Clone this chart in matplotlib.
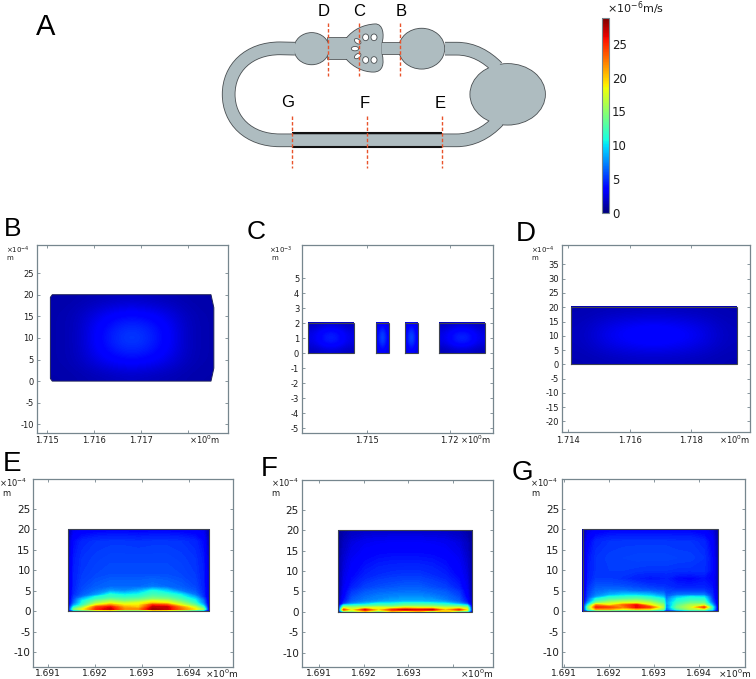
#!/usr/bin/env python3
import numpy as np
import matplotlib
matplotlib.use("Agg")
import matplotlib.pyplot as plt
from matplotlib.cm import ScalarMappable
from matplotlib.colors import Normalize
from matplotlib.patches import Ellipse, PathPatch, Polygon, Rectangle
from matplotlib.path import Path

plt.rcParams["axes.unicode_minus"] = False

W, H = 756, 679
VMAX = 28.8
GREY = "#76868e"
CHIP = "#aebcc0"
EDGE = "#4a4f52"
RED = "#e9532b"
INK = "#1c1c1c"

# --- velocity fields, values in 1e-6 m/s ---
# rows run bottom to top (y in 1e-4 m)
b_extent = [1.71508, 1.71854, 0, 20]
b_v = [
    [1.1, 1.2, 1.4, 1.6, 1.8, 1.6, 1.4, 1.2, 1.1],
    [1.2, 1.5, 2.4, 3.2, 3.5, 3.2, 2.5, 1.5, 1.2],
    [1.2, 1.6, 3.1, 4.3, 4.8, 4.3, 3.2, 1.7, 1.2],
    [1.2, 1.6, 3.3, 4.7, 5.6, 4.7, 3.4, 1.7, 1.2],
    [1.2, 1.6, 3.1, 4.3, 4.8, 4.3, 3.2, 1.7, 1.2],
    [1.2, 1.5, 2.4, 3.2, 3.5, 3.2, 2.5, 1.5, 1.2],
    [1.1, 1.2, 1.4, 1.6, 1.8, 1.6, 1.4, 1.2, 1.1],
]
b_outline = [(1.71508, 0.6), (1.71512, 0), (1.71848, 0), (1.71854, 3), (1.71854, 17),
             (1.71848, 20), (1.71512, 20), (1.71508, 19.4)]

c_rects = [(1.71142, 1.71421), (1.71553, 1.7163), (1.71729, 1.71806), (1.71937, 1.72214)]
c_v = [
    [[1.6, 2.2, 2.2, 1.6], [2.4, 4.0, 4.0, 2.4], [2.6, 4.6, 4.6, 2.6], [2.4, 4.0, 4.0, 2.4], [1.6, 2.2, 2.2, 1.6]],
    [[2.4, 3.4, 3.4, 2.4], [3.2, 5.0, 5.0, 3.2], [3.6, 5.6, 5.6, 3.6], [3.2, 5.0, 5.0, 3.2], [2.4, 3.4, 3.4, 2.4]],
    [[2.4, 3.4, 3.4, 2.4], [3.2, 5.0, 5.0, 3.2], [3.6, 5.8, 5.8, 3.6], [3.2, 5.0, 5.0, 3.2], [2.4, 3.4, 3.4, 2.4]],
    [[1.4, 2.0, 2.0, 1.4], [2.4, 4.0, 4.0, 2.4], [2.6, 4.8, 4.8, 2.6], [2.4, 4.0, 4.0, 2.4], [1.6, 2.2, 2.2, 1.6]],
]

d_extent = [1.71409, 1.71948, 0, 20]
d_v = [
    [1.3, 1.5, 1.7, 1.8, 1.7, 1.5, 1.3],
    [1.5, 2.4, 2.9, 3.1, 2.9, 2.4, 1.5],
    [1.6, 2.9, 3.6, 4.2, 3.6, 2.9, 1.6],
    [1.5, 2.4, 2.9, 3.1, 2.9, 2.4, 1.5],
    [1.3, 1.5, 1.6, 1.7, 1.6, 1.5, 1.3],
]

# E and F share columns and rows
ef_x = [1.69143, 1.69155, 1.69173, 1.69203, 1.69233, 1.69263, 1.69293,
        1.69323, 1.69353, 1.69383, 1.69413, 1.69431, 1.69443]
ef_y = [0, 0.15, 0.5, 1, 1.5, 2, 2.5, 3, 3.5, 4, 5, 6, 9, 13, 17, 20]
e_v = [
    [0.8, 3, 3, 4, 4, 3, 3, 4, 4, 3, 3, 3, 0.8],
    [1.5, 8, 11, 13, 13, 11, 11, 13, 13, 12, 9, 8, 1.5],
    [2, 14, 18, 25, 27, 22, 22, 28, 27, 23, 19, 15, 2],
    [2, 11, 15, 24, 26, 21, 20, 27, 27, 22, 17, 12, 2],
    [2, 8, 12, 19, 22, 19, 19, 25, 24, 18, 14, 9, 2],
    [2, 6.5, 11, 16, 18, 17, 18, 20, 19, 16, 12, 7.5, 2],
    [2, 6, 10.5, 14, 16, 14.5, 15.5, 18, 17, 14, 11, 7, 2],
    [2, 5.5, 9, 12, 13.5, 13, 13.5, 15, 14.5, 12.5, 10, 6, 2],
    [2, 5.2, 7, 11, 12, 11.5, 12, 13.5, 13, 11.5, 8.5, 5, 2],
    [2, 4.8, 6.2, 8, 11.5, 10.5, 11, 12.5, 12, 10.5, 7, 4.8, 2],
    [2, 4.6, 5.8, 6.8, 8, 7.5, 8.5, 11, 9.5, 7, 6, 4.6, 2],
    [2, 4.5, 5.6, 6.2, 6.6, 6.6, 6.6, 7, 6.6, 6.2, 5.6, 4.5, 2],
    [2, 4.4, 5.2, 5.6, 5.8, 5.8, 5.8, 5.8, 5.8, 5.6, 5.2, 4.4, 2],
    [1.8, 4.2, 5, 5.3, 5.5, 5.5, 5.5, 5.5, 5.5, 5.3, 5, 4.2, 1.8],
    [1.5, 3.8, 4.6, 5, 5.1, 5.1, 5, 5.1, 5.1, 5, 4.6, 3.8, 1.5],
    [1, 2.8, 3.2, 3.4, 3.5, 3.5, 3.4, 3.5, 3.5, 3.4, 3.2, 2.8, 1],
]
f_v = [
    [0.8, 3, 4, 4, 4, 4, 4, 4, 4, 4, 4, 3, 0.8],
    [1.5, 14, 15, 20, 14, 20, 17, 20, 15, 20, 14, 13, 1.5],
    [2, 24, 18, 26, 19, 25, 27, 26, 27, 20, 25, 19, 2],
    [2, 17, 16, 17, 18, 17, 19, 18, 18, 17, 17, 16, 2],
    [1.5, 11.5, 12, 12.5, 13, 13, 14, 14, 14, 13, 12.5, 11, 1.5],
    [1.2, 5, 7.5, 9, 11, 11, 12, 12, 11.5, 10.5, 8, 5.5, 1.2],
    [1.2, 4.2, 6.5, 7.5, 8, 8.5, 9, 9, 8.5, 8, 6.5, 4.2, 1.2],
    [1, 3.8, 6, 7, 7.5, 8, 8.2, 8.2, 8, 7, 6, 4, 1],
    [1, 3.6, 5.8, 6.8, 7.2, 7.6, 7.8, 7.8, 7.5, 6.8, 5.8, 3.6, 1],
    [0.9, 3.4, 5.5, 6.5, 7, 7.2, 7.4, 7.4, 7, 6.5, 5.5, 3.4, 0.9],
    [0.8, 3.2, 5, 6, 6.4, 6.6, 6.7, 6.7, 6.4, 6, 5, 3.2, 0.8],
    [0.8, 2.9, 4.4, 5.4, 5.8, 6, 6.2, 6.2, 5.8, 5.4, 4.4, 2.9, 0.8],
    [0.8, 2.5, 3.6, 4.4, 4.8, 5, 5.1, 5.1, 4.8, 4.4, 3.6, 2.5, 0.8],
    [0.8, 2.1, 3, 3.7, 4, 4.1, 4.1, 4.1, 4, 3.7, 3, 2.1, 0.8],
    [0.6, 1.6, 2.4, 2.9, 3.1, 3.2, 3.2, 3.2, 3.1, 2.9, 2.4, 1.6, 0.6],
    [0.5, 1, 1.5, 1.8, 1.9, 1.9, 1.9, 1.9, 1.9, 1.8, 1.5, 1, 0.5],
]

g_x = [1.69142, 1.69154, 1.69172, 1.69202, 1.69232, 1.69262, 1.69292, 1.69322,
       1.69328, 1.69352, 1.69382, 1.69412, 1.6943, 1.69443]
g_y = [0, 0.15, 0.5, 1, 1.5, 2, 2.5, 3, 3.5, 4, 5, 6, 8, 10, 13, 17, 20]
g_v = [
    [0.8, 3, 4, 4, 4, 4, 4, 3, 2, 3, 4, 4, 3, 0.8],
    [1.5, 8, 10, 10, 10, 10, 10, 8, 4.5, 7, 9, 9, 7, 1.5],
    [2, 13, 21, 21, 18, 20, 19, 14, 6, 12, 16, 17, 11, 2],
    [2, 14, 25, 24, 22, 26, 24, 16, 7, 14, 17, 24, 12, 2],
    [2, 11, 22, 19, 23, 26, 19, 15, 7, 13, 16, 17, 9, 2],
    [2, 8, 15, 17, 18, 18, 17, 13, 8, 12, 14, 14, 7, 2],
    [2, 6.5, 12, 14.5, 15.5, 16, 14.5, 12, 7.5, 11, 12.5, 12.5, 6, 2],
    [2, 6, 11, 12.5, 13, 13.5, 12.5, 11, 7, 10.5, 11.5, 11.5, 5.5, 2],
    [2, 5.5, 8, 11, 11.5, 12, 11, 9, 6.5, 9, 10.5, 10, 5, 2],
    [2, 5.3, 7.2, 8.5, 9.5, 9.5, 9, 7.5, 6, 6.8, 7, 7, 4.8, 2],
    [1.8, 5, 6.5, 7, 7, 6.5, 6.2, 5.8, 5.4, 5.2, 5.2, 5.2, 4.4, 1.8],
    [1.6, 4.8, 6, 6, 5.9, 5.6, 5.2, 5, 4.9, 4.5, 4.4, 4.5, 4, 1.6],
    [1.5, 4.3, 5.2, 5.2, 4.9, 4.4, 4.1, 4.3, 4.4, 3.8, 3.6, 4, 3.6, 1.5],
    [1.5, 4.2, 5, 5.2, 5.2, 5.1, 5, 5, 5, 4.9, 4.9, 4.9, 3.8, 1.5],
    [1.4, 4, 5, 5.3, 5.4, 5.5, 5.5, 5.5, 5.5, 5.4, 5.3, 5, 3.8, 1.4],
    [1.2, 3.5, 4.6, 5, 5.1, 5.1, 5.1, 5.1, 5.1, 5, 5, 4.6, 3.4, 1.2],
    [1, 2.6, 3.2, 3.5, 3.5, 3.5, 3.5, 3.5, 3.5, 3.5, 3.5, 3.2, 2.6, 1],
]

# --- tick labels ---
b_xticks = [1.715, 1.716, 1.717, 1.718]
b_xlabels = ["1.715", "1.716", "1.717", ""]
b_yticks = [-10, -5, 0, 5, 10, 15, 20, 25]
c_xticks = [1.715, 1.72]
c_xlabels = ["1.715", "1.72"]
c_yticks = [-5, -4, -3, -2, -1, 0, 1, 2, 3, 4, 5]
d_xticks = [1.714, 1.716, 1.718]
d_xlabels = ["1.714", "1.716", "1.718"]
d_yticks = [-20, -15, -10, -5, 0, 5, 10, 15, 20, 25, 30, 35]
ef_yticks = [-10, -5, 0, 5, 10, 15, 20, 25]
e_xticks = [1.691, 1.692, 1.693, 1.694]
e_xlabels = ["1.691", "1.692", "1.693", "1.694"]
f_xlabels = ["1.691", "1.692", "1.693", ""]
cbar_ticks = [0, 5, 10, 15, 20, 25]

fig = plt.figure(figsize=(W / 100, H / 100), dpi=100)
norm = Normalize(0, VMAX)
levels = np.linspace(0, VMAX, 145)


def px_axes(left, top, right, bottom):
    return fig.add_axes([left / W, 1 - bottom / H, (right - left) / W, (bottom - top) / H])


def panel(box, xlim, ylim, xticks, xlabels, yticks, xsize, ysize, xpad):
    ax = px_axes(*box)
    ax.set_xlim(xlim)
    ax.set_ylim(ylim)
    ax.set_autoscale_on(False)
    ax.set_xticks(xticks, xlabels, fontsize=xsize)
    ax.set_yticks(yticks, [str(t) for t in yticks], fontsize=ysize)
    ax.tick_params(axis="both", direction="in", top=True, right=True, length=2,
                   width=0.6, color=GREY, labelcolor=INK, pad=2)
    ax.tick_params(axis="x", pad=xpad)
    for s in ax.spines.values():
        s.set_color(GREY)
        s.set_linewidth(0.9)
    return ax


def frame(ax, x0, x1, y0, y1):
    ax.plot([x0, x1, x1, x0, x0], [y0, y0, y1, y1, y0], color="#3f4450", lw=0.8,
            solid_joinstyle="miter")


def smooth_field(ax, extent, v):
    im = ax.imshow(v, extent=extent, origin="lower", aspect="auto", cmap="jet", norm=norm,
                   interpolation="bicubic")
    frame(ax, *extent)
    return im


def band_field(ax, x, y, v):
    ax.contourf(x, y, v, levels=levels, cmap="jet", norm=norm, antialiased=False)
    frame(ax, x[0], x[-1], y[0], y[-1])


# --- panel B ---
ax_b = panel((36.7, 245, 228, 433), (1.71479, 1.71884), (-12.0, 31.5),
             b_xticks, b_xlabels, b_yticks, 6, 6, 2.5)
im = ax_b.imshow(b_v, extent=b_extent, origin="lower", aspect="auto", cmap="jet", norm=norm,
                 interpolation="bicubic")
outline = Polygon(b_outline, closed=True, fc="none", ec="#20245a", lw=0.7, transform=ax_b.transData)
ax_b.add_patch(outline)
im.set_clip_path(outline)

# --- panel C ---
ax_c = panel((302, 245.3, 493.3, 432.7), (1.71104, 1.72265), (-5.29, 7.2),
             c_xticks, c_xlabels, c_yticks, 6, 6, 2.5)
for (x0, x1), v in zip(c_rects, c_v):
    smooth_field(ax_c, [x0, x1, 0, 2], v)

# --- panel D ---
ax_d = panel((561.7, 244.7, 750.3, 432.3), (1.71379, 1.71992), (-23.8, 41.9),
             d_xticks, d_xlabels, d_yticks, 6, 6, 2.5)
smooth_field(ax_d, d_extent, d_v)

# --- panels E, F, G ---
ax_e = panel((33.3, 479.3, 233, 667.3), (1.69069, 1.69494), (-13.7, 32.26),
             e_xticks, e_xlabels, ef_yticks, 6.5, 7.5, 1.5)
band_field(ax_e, ef_x, ef_y, e_v)
ax_f = panel((301.7, 480, 493.3, 667.3), (1.69061, 1.6949), (-13.6, 32.3),
             e_xticks, f_xlabels, ef_yticks, 6.5, 7.5, 1.5)
band_field(ax_f, ef_x, ef_y, f_v)
ax_g = panel((562, 479.3, 744.5, 667.3), (1.69096, 1.69502), (-13.7, 32.26),
             e_xticks, e_xlabels, ef_yticks, 6.5, 7.5, 1.5)
band_field(ax_g, g_x, g_y, g_v)

# --- colorbar ---
cax = px_axes(602.3, 18.3, 609.3, 212.7)
cb = fig.colorbar(ScalarMappable(norm=norm, cmap="jet"), cax=cax, ticks=cbar_ticks)
cb.ax.tick_params(length=0, labelsize=8.5, pad=2, labelcolor=INK)
cb.outline.set_edgecolor(GREY)
cb.outline.set_linewidth(0.8)

# --- overlay in pixel coordinates: schematic A and all the loose text ---
ov = fig.add_axes([0, 0, 1, 1], zorder=-1)
ov.set_xlim(0, W)
ov.set_ylim(H, 0)
ov.axis("off")
top = fig.add_axes([0, 0, 1, 1], zorder=5)
top.set_xlim(0, W)
top.set_ylim(H, 0)
top.axis("off")
top.patch.set_alpha(0)


def z(x, y):
    # coordinates measured on the 3x crop of the schematic
    return (200 + x / 3, y / 3)


channel_pts = [(285, 146), (240, 145), (145, 145), (86, 205), (86, 283), (86, 361), (145, 421),
               (240, 421), (770, 421), (815, 421), (860, 400), (895, 362)]
channel_codes = [Path.MOVETO, Path.LINETO, Path.CURVE4, Path.CURVE4, Path.CURVE4, Path.CURVE4,
                 Path.CURVE4, Path.CURVE4, Path.LINETO, Path.CURVE4, Path.CURVE4, Path.CURVE4]
right_pts = [(735, 146), (770, 146), (820, 146), (860, 170), (892, 202)]
right_codes = [Path.MOVETO, Path.LINETO, Path.CURVE4, Path.CURVE4, Path.CURVE4]
chip_pts = [(440, 115), (460, 90), (490, 75), (525, 73), (548, 72), (552, 105), (545, 128),
            (545, 162), (552, 190), (548, 215), (520, 215), (490, 215), (460, 200), (440, 177),
            (440, 115)]
chip_codes = [Path.MOVETO, Path.CURVE4, Path.CURVE4, Path.CURVE4, Path.CURVE4, Path.CURVE4,
              Path.CURVE4, Path.LINETO, Path.CURVE4, Path.CURVE4, Path.CURVE4, Path.CURVE4,
              Path.CURVE4, Path.CURVE4, Path.CLOSEPOLY]
bubbles = [(923, 283, 224, 182), (665, 146, 136, 120), (335, 146, 104, 94)]
necks = [(545, 128, 56, 34), (385, 115, 56, 62)]
holes = [(497, 112, 18, 20, 0), (522, 112, 18, 20, 0), (497, 180, 18, 20, 0), (522, 180, 18, 20, 0),
         (473, 124, 22, 13, 35), (465, 146, 22, 13, 0), (473, 168, 22, 13, -35)]
cuts_top = [383, 477, 599]
cuts_bottom = [277, 500, 727]
letters = [("D", 370, 33), ("C", 477, 33), ("B", 605, 33), ("G", 264, 307), ("F", 495, 310), ("E", 720, 310)]


def zpath(pts, codes):
    return Path([z(*p) for p in pts], codes)


def body(fill_lw, chan_lw, color):
    for pts, codes in ((channel_pts, channel_codes), (right_pts, right_codes)):
        ov.add_patch(PathPatch(zpath(pts, codes), fc="none", ec=color, lw=chan_lw, capstyle="butt"))
    for x, y, w, h in bubbles:
        ov.add_patch(Ellipse(z(x, y), w / 3, h / 3, fc=color, ec=color, lw=fill_lw))
    for x, y, w, h in necks:
        ov.add_patch(Rectangle(z(x, y), w / 3, h / 3, fc=color, ec=color, lw=fill_lw))
    ov.add_patch(PathPatch(zpath(chip_pts, chip_codes), fc=color, ec=color, lw=fill_lw))


# dark copy first, the grey copy on top leaves only the outer outline
body(1.2, 9.8, EDGE)
body(0, 8.6, CHIP)

for y in (400, 440):
    ov.plot(*zip(z(277, y), z(727, y)), color="#111111", lw=1.5, solid_capstyle="butt")
for x, y, w, h, a in holes:
    ov.add_patch(Ellipse(z(x, y), w / 3, h / 3, angle=a, fc="white", ec=EDGE, lw=0.6))
for x in cuts_top:
    ov.plot(*zip(z(x, 70), z(x, 228)), color=RED, lw=1.0, dashes=(2.5, 1.5))
for x in cuts_bottom:
    ov.plot(*zip(z(x, 348), z(x, 505)), color=RED, lw=1.0, dashes=(2.5, 1.5))
for s, x, y in letters:
    px, py = z(x, y)
    top.text(px, py, s, fontsize=12, family="Liberation Sans", ha="center", va="center")

# panel letters
panel_letters = [("A", 46, 27, 21), ("B", 12.3, 228.5, 19), ("C", 256, 232, 19), ("D", 526, 234, 20),
                 ("E", 12, 464, 20), ("F", 269, 469, 20), ("G", 522, 473, 20)]
for s, x, y, size in panel_letters:
    top.text(x, y, s, fontsize=size, family="Liberation Sans", ha="center", va="center")

# axis multipliers
exponents = [("-4", 18.3, 250.7, 10, 258.5, 5), ("-3", 281, 250.7, 275, 258.5, 5),
             ("-4", 543, 250, 535, 257.5, 5), ("-4", 13, 483, 6, 493.5, 6),
             ("-4", 285, 483, 275, 493.5, 6), ("-4", 544, 483, 535, 493.5, 6)]
for e, x, y, mx, my, size in exponents:
    top.text(x, y, "×10$^{%s}$" % e, fontsize=size, ha="center", va="center", color=INK)
    top.text(mx, my, "m", fontsize=size, ha="center", va="center", color=INK)
x_units = [(205, 440, 6), (476, 440, 6), (735, 440, 6), (222, 674, 6.5), (477, 674, 6.5), (735, 674, 6.5)]
for x, y, size in x_units:
    top.text(x, y, "×10$^{0}$m", fontsize=size, ha="center", va="center", color=INK)
top.text(636, 8, "×10$^{-6}$m/s", fontsize=8, ha="center", va="center", color=INK)

plt.savefig("out.png", dpi=100)
